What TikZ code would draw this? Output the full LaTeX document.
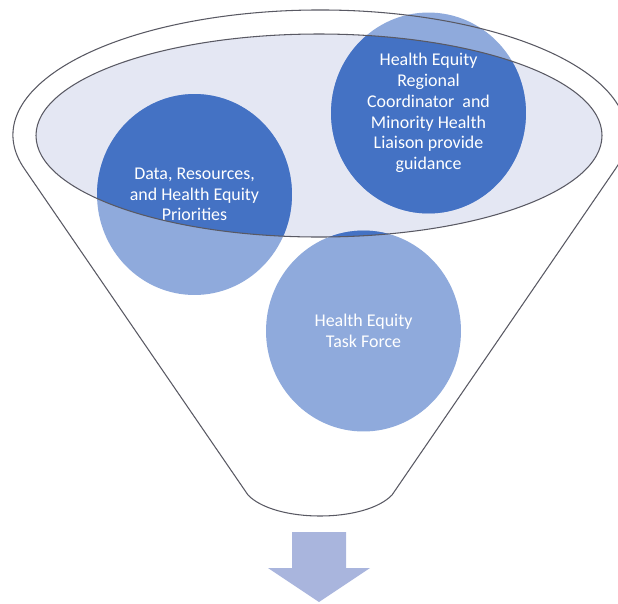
\documentclass[tikz,border=0pt]{standalone}
\usepackage{fontspec}
\newfontfamily\calfont{Carlito}
\usepackage{tikz}
\usetikzlibrary{shapes.geometric}
\definecolor{deepblue}{RGB}{68,114,196}
\definecolor{paleblue}{RGB}{143,170,220}
\definecolor{haze}{RGB}{228,231,243}
\definecolor{rim}{RGB}{89,89,99}
\definecolor{flow}{RGB}{169,181,221}

\begin{document}
\begin{tikzpicture}[x=0.02cm,y=-0.02cm,
  rimline/.style={draw=rim,line width=0.6pt},
  bubble/.style={ellipse,minimum width=3.9cm,minimum height=4.02cm,inner sep=0pt,
    fill=paleblue,text=white,align=center,font=\calfont\fontsize{10.2}{11.8}\selectfont,
    path picture={\fill[deepblue] (mouth) ellipse [x radius=5.66cm,y radius=2.03cm];}}]
\useasboundingbox (0,0) rectangle (618,603);
%funnel body and mouth
\coordinate (mouth) at (319,135.5);
\fill[white] (24.3,168.6) arc[start angle=164.4,end angle=375.6,x radius=307,y radius=125]
  -- (392,495) .. controls (365,523) and (275,523) .. (248,495) -- cycle;
\fill[haze] (mouth) ellipse [x radius=283,y radius=101.5];

%bubbles
\node[bubble] (guide) at (428.5,113) {Health Equity\\Regional\\Coordinator~ and\\Minority Health\\Liaison provide\\guidance};
\node[bubble] (data) at (194.5,194.5) {Data, Resources,\\and Health Equity\\Priorities};
\node[bubble] (task) at (363.5,331) {Health Equity\\Task Force};

%outlines on top
\draw[rimline] (24.3,168.6) arc[start angle=164.4,end angle=375.6,x radius=307,y radius=125]
  -- (392,495) .. controls (365,523) and (275,523) .. (248,495) -- cycle;
\draw[rimline] (mouth) ellipse [x radius=283,y radius=101.5];

%outflow arrow
\fill[flow] (292,532) -- (346,532) -- (346,568) -- (370,568) -- (319,602)
  -- (268,568) -- (292,568) -- cycle;
\end{tikzpicture}
\end{document}
